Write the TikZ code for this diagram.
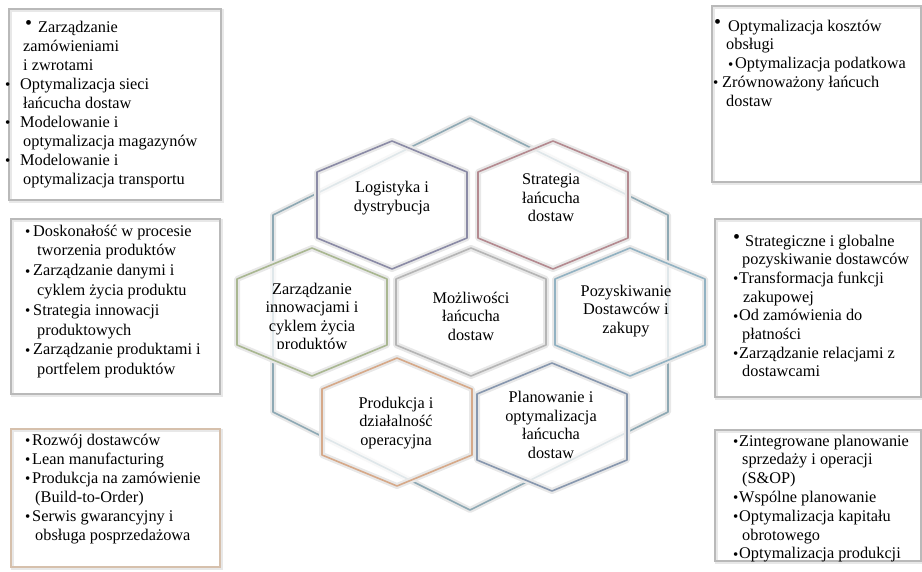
\documentclass[tikz,border=0pt]{standalone}
\usepackage{fontspec}
\setmainfont{Liberation Serif}
\usepackage{xcolor}
\usepackage{tikz}

\definecolor{duzy}{HTML}{8EA9B4}
\definecolor{logist}{HTML}{8B8BA6}
\definecolor{strat}{HTML}{B48A90}
\definecolor{innow}{HTML}{A9B791}
\definecolor{mozl}{HTML}{B5B5B5}
\definecolor{pozysk}{HTML}{92B2C2}
\definecolor{produk}{HTML}{D6A989}
\definecolor{planow}{HTML}{8797AE}
\definecolor{ramkabez}{HTML}{D6C0AC}

\newcommand{\pkt}[1][6pt]{\makebox[#1][l]{\raisebox{-0.5pt}{\fontsize{15}{15}\selectfont\textbullet}}}
\newcommand{\Pkt}[1][12pt]{\makebox[#1][l]{\raisebox{3pt}{\fontsize{20}{20}\selectfont\textbullet}}}
\newcommand{\lista}[1]{\begin{tabular}[t]{@{}l@{}}#1\end{tabular}}

\tikzset{
  plaster/.pic={\path[pic actions] (0,-64) -- ++(75,31) -- ++(0,66) -- ++(-75,31) -- ++(-75,-31) -- ++(0,-66) -- cycle;},
  pasek/.style={draw=black!9, line width=6pt, line join=round},
  ramka/.style={draw=gray!55, line width=1.2pt},
  cien/.style={draw=gray!18, line width=3pt},
  etykieta/.style={font=\fontsize{16.3}{18.5}\selectfont, align=center, inner sep=0pt},
  tekst/.style={font=\fontsize{16.3}{19}\selectfont, inner sep=0pt, anchor=base west}
}

\begin{document}
\begin{tikzpicture}[x=1pt,y=-1pt]
    \useasboundingbox (0,0) rectangle (922,571);

    % Frames
    \foreach \a/\b/\c/\d in {9/9/221/200, 11/219/220/394, 712/6/921/182, 715/219/921/397, 715/430/921/561}
      {\draw[cien] (\a+1.5,\b+1.5) rectangle (\c+1.5,\d+1.5);
       \draw[ramka] (\a,\b) rectangle (\c,\d);}
    \draw[cien] (12.5,430.5) rectangle (221.5,568.5);
    \draw[ramka, draw=ramkabez] (11,429) rectangle (220,567);

    % Big hexagon
    \draw[pasek] (470,118) -- (668,215) -- (668,412) -- (470,510) -- (273,412) -- (273,215) -- cycle;
    \draw[duzy, line width=1.6pt, line join=round] (470,118) -- (668,215) -- (668,412) -- (470,510) -- (273,412) -- (273,215) -- cycle;

    % Small hexagons
    \foreach \x/\y in {392/205, 553/205, 312/312, 471/312, 630/312, 397/422, 552/427}
      \pic[fill=white, fill opacity=0.72] at (\x,\y) {plaster};

    % Labels
    \node[etykieta] (logistyka) at (392,198) {Logistyka i\\dystrybucja};
    \node[etykieta] (strategia) at (551,198) {Strategia\\łańcucha\\dostaw};
    \begin{scope}
      \clip (220,240) rectangle (410,348);
      \node[etykieta] (innowacje) at (312,318) {Zarządzanie\\innowacjami i\\cyklem życia\\produktów};
    \end{scope}
    \node[etykieta] (mozliwosci) at (471,316) {Możliwości\\łańcucha\\dostaw};
    \node[etykieta] (pozyskiwanie) at (626,311) {Pozyskiwanie\\Dostawców i\\zakupy};
    \node[etykieta] (produkcja) at (396,423) {Produkcja i\\działalność\\operacyjna};
    \node[etykieta] (planowanie) at (551,425) {Planowanie i\\optymalizacja\\łańcucha\\dostaw};

    \foreach \x/\y/\kol in {392/205/logist, 553/205/strat, 312/312/innow, 471/312/mozl, 630/312/pozysk, 397/422/produk, 552/427/planow}
      {\pic[pasek] at (\x,\y) {plaster};
       \pic[draw=\kol, line width=1.6pt, line join=round] at (\x,\y) {plaster};}

    % Lists
    \node[tekst] (logistykaLista) at (5,32) {\lista{%
      \hspace*{20pt}\Pkt[13pt]Zarządzanie\\
      \hspace*{18pt}zamówieniami\\
      \hspace*{18pt}i zwrotami\\
      \pkt[15pt]Optymalizacja sieci\\
      \hspace*{18pt}łańcucha dostaw\\
      \pkt[15pt]Modelowanie i\\
      \hspace*{18pt}optymalizacja magazynów\\
      \pkt[15pt]Modelowanie i\\
      \hspace*{18pt}optymalizacja transportu}};
    \node[tekst, font=\fontsize{16.3}{19.8}\selectfont] (innowacjeLista) at (25,236) {\lista{%
      \pkt[8pt]Doskonałość w procesie\\
      \hspace*{12pt}tworzenia produktów\\
      \pkt[8pt]Zarządzanie danymi i\\
      \hspace*{12pt}cyklem życia produktu\\
      \pkt[8pt]Strategia innowacji\\
      \hspace*{12pt}produktowych\\
      \pkt[8pt]Zarządzanie produktami i\\
      \hspace*{12pt}portfelem produktów}};
    \node[tekst] (produkcjaLista) at (25,445) {\lista{%
      \pkt[7pt]Rozwój dostawców\\
      \pkt[7pt]Lean manufacturing\\
      \pkt[7pt]Produkcja na zamówienie\\
      \hspace*{10pt}(Build-to-Order)\\
      \pkt[7pt]Serwis gwarancyjny i\\
      \hspace*{10pt}obsługa posprzedażowa}};
    \node[tekst, font=\fontsize{16.3}{18.75}\selectfont] (strategiaLista) at (713,31) {\lista{%
      \hspace*{1pt}\Pkt[14pt]Optymalizacja kosztów\\
      \hspace*{13pt}obsługi\\
      \hspace*{15pt}\pkt[7pt]Optymalizacja podatkowa\\
      \pkt[9pt]Zrównoważony łańcuch\\
      \hspace*{13pt}dostaw}};
    \node[tekst, font=\fontsize{16.3}{18.7}\selectfont] (pozyskiwanieLista) at (733,246) {\lista{%
      \Pkt[12pt]Strategiczne i globalne\\
      \hspace*{9pt}pozyskiwanie dostawców\\
      \pkt[6pt]Transformacja funkcji\\
      \hspace*{10pt}zakupowej\\
      \pkt[6pt]Od zamówienia do\\
      \hspace*{9pt}płatności\\
      \pkt[6pt]Zarządzanie relacjami z\\
      \hspace*{9pt}dostawcami}};
    \node[tekst, font=\fontsize{16.3}{18.8}\selectfont] (planowanieLista) at (733,446) {\lista{%
      \pkt[6pt]Zintegrowane planowanie\\
      \hspace*{9pt}sprzedaży i operacji\\
      \hspace*{9pt}(S\&OP)\\
      \pkt[6pt]Wspólne planowanie\\
      \pkt[6pt]Optymalizacja kapitału\\
      \hspace*{9pt}obrotowego\\
      \pkt[6pt]Optymalizacja produkcji}};
\end{tikzpicture}
\end{document}
